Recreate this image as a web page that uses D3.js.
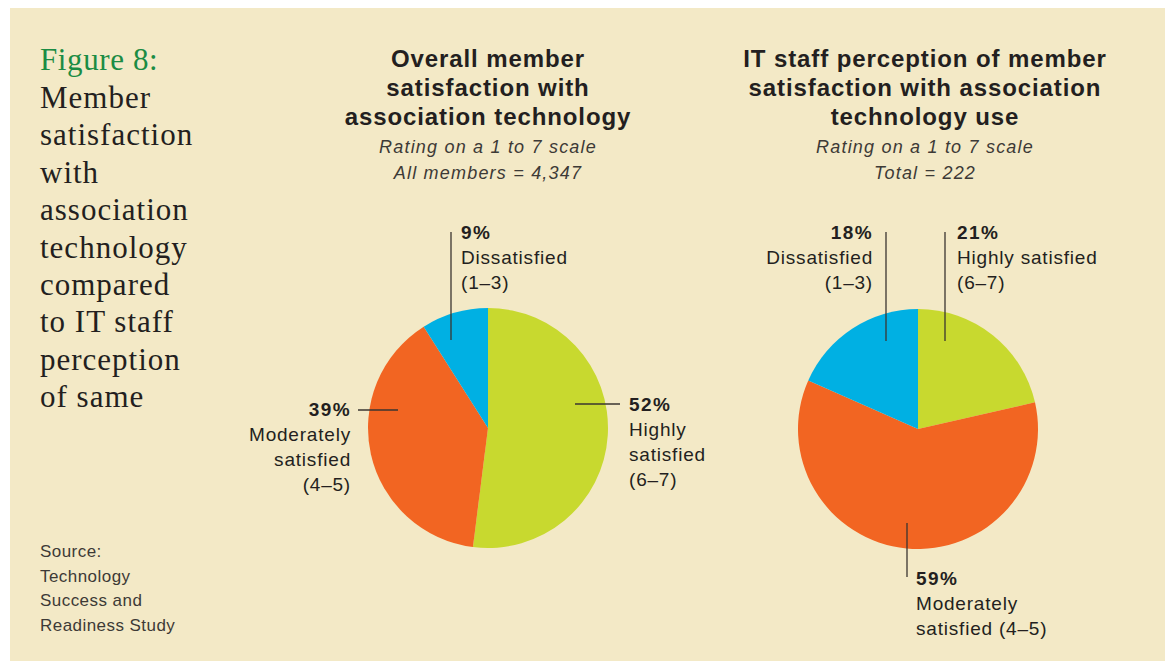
<!DOCTYPE html>
<html>
<head>
<meta charset="utf-8">
<script src="https://cdn.jsdelivr.net/npm/d3@7"></script>
<style>
  body { margin: 0; background: #ffffff; }
  svg text { fill: #231f20; }
</style>
</head>
<body>
<div class="chart"></div>
<script>
// Pie chart comparison: member satisfaction vs IT staff perception
var svgWidth = 1165;
var svgHeight = 663;

// data
var categories = ["Highly satisfied", "Moderately satisfied", "Dissatisfied"];
var memberValues = [52, 39, 9];
var staffValues = [21, 59, 18];
var sliceColors = ["#c8d92f", "#f26522", "#00b0e3"];

var memberTitle = ["Overall member", "satisfaction with", "association technology"];
var memberSub = ["Rating on a 1 to 7 scale", "All members = 4,347"];
var staffTitle = ["IT staff perception of member", "satisfaction with association", "technology use"];
var staffSub = ["Rating on a 1 to 7 scale", "Total = 222"];

var memberLabels = [
  ["Highly", "satisfied", "(6\u20137)"],
  ["Moderately", "satisfied", "(4\u20135)"],
  ["Dissatisfied", "(1\u20133)"]
];
var staffLabels = [
  ["Highly satisfied", "(6\u20137)"],
  ["Moderately", "satisfied (4\u20135)"],
  ["Dissatisfied", "(1\u20133)"]
];

var figureLines = ["Member", "satisfaction", "with", "association", "technology",
  "compared", "to IT staff", "perception", "of same"];
var sourceLines = ["Source:", "Technology", "Success and", "Readiness Study"];

var svg = d3.select(".chart")
  .append("svg")
  .attr("width", svgWidth)
  .attr("height", svgHeight);

// beige panel
svg.append("rect")
  .attr("x", 10).attr("y", 8)
  .attr("width", svgWidth - 10).attr("height", 653)
  .attr("fill", "#f3e9c6");

var sans = "'Liberation Sans', Arial, Helvetica, sans-serif";
var serif = "'Liberation Serif', 'Times New Roman', serif";

// figure heading on the left
svg.append("text")
  .attr("x", 40).attr("y", 70)
  .attr("font-family", serif)
  .attr("font-size", 31)
  .attr("letter-spacing", 0.6)
  .style("fill", "#1b8c44")
  .text("Figure 8:");

svg.append("g").selectAll("text")
  .data(figureLines).enter().append("text")
  .attr("x", 40)
  .attr("y", function(d, i) { return 108 + i * 37.4; })
  .attr("font-family", serif)
  .attr("font-size", 31)
  .attr("letter-spacing", 1)
  .text(function(d) { return d; });

svg.append("g").selectAll("text")
  .data(sourceLines).enter().append("text")
  .attr("x", 40)
  .attr("y", function(d, i) { return 557 + i * 24.5; })
  .attr("font-family", sans)
  .attr("font-size", 17)
  .attr("letter-spacing", 0.45)
  .style("fill", "#3d3a36")
  .text(function(d) { return d; });

var pie = d3.pie().sort(null).value(function(d) { return d; });
var radius = 120;
var arc = d3.arc().innerRadius(0).outerRadius(radius);

function drawTitle(cx, titleLines, subLines) {
  var g = svg.append("g");
  g.selectAll(".t").data(titleLines).enter().append("text")
    .attr("x", cx)
    .attr("y", function(d, i) { return 67 + i * 29; })
    .attr("text-anchor", "middle")
    .attr("font-family", sans)
    .attr("font-weight", "bold")
    .attr("font-size", 24)
    .attr("letter-spacing", 0.9)
    .text(function(d) { return d; });
  g.selectAll(".s").data(subLines).enter().append("text")
    .attr("x", cx)
    .attr("y", function(d, i) { return 153 + i * 25.5; })
    .attr("text-anchor", "middle")
    .attr("font-family", sans)
    .attr("font-style", "italic")
    .attr("font-size", 18)
    .attr("letter-spacing", 1.2)
    .style("fill", "#3d3a36")
    .text(function(d) { return d; });
}

function drawPie(cx, cy, values) {
  var g = svg.append("g").attr("transform", "translate(" + cx + "," + cy + ")");
  g.selectAll("path")
    .data(pie(values)).enter().append("path")
    .attr("d", arc)
    .attr("fill", function(d, i) { return sliceColors[i]; });
}

// label block: percent in bold then lines, plus a leader line
function drawLabel(x, y, anchor, pct, lines, line) {
  var g = svg.append("g");
  g.append("line")
    .attr("x1", line[0]).attr("y1", line[1])
    .attr("x2", line[2]).attr("y2", line[3])
    .attr("stroke", "#3a3530")
    .attr("stroke-width", 1.3);
  g.append("text")
    .attr("x", x).attr("y", y)
    .attr("text-anchor", anchor)
    .attr("font-family", sans)
    .attr("font-weight", "bold")
    .attr("font-size", 19)
    .attr("letter-spacing", 1.4)
    .text(pct + "%");
  g.selectAll(".l").data(lines).enter().append("text")
    .attr("x", x)
    .attr("y", function(d, i) { return y + 25 * (i + 1); })
    .attr("text-anchor", anchor)
    .attr("font-family", sans)
    .attr("font-size", 19)
    .attr("letter-spacing", 0.8)
    .text(function(d) { return d; });
}

// left chart
drawTitle(488, memberTitle, memberSub);
drawPie(488, 428, memberValues);
drawLabel(629, 411, "start", memberValues[0], memberLabels[0], [575, 404, 620, 404]);
drawLabel(351, 416, "end", memberValues[1], memberLabels[1], [358, 410, 398, 410]);
drawLabel(461, 239, "start", memberValues[2], memberLabels[2], [451, 232, 451, 340]);

// right chart
drawTitle(925, staffTitle, staffSub);
drawPie(918, 429, staffValues);
drawLabel(957, 239, "start", staffValues[0], staffLabels[0], [945, 232, 945, 341]);
drawLabel(916, 585, "start", staffValues[1], staffLabels[1], [907, 523, 907, 577]);
drawLabel(873, 239, "end", staffValues[2], staffLabels[2], [886, 232, 886, 341]);
</script>
</body>
</html>
